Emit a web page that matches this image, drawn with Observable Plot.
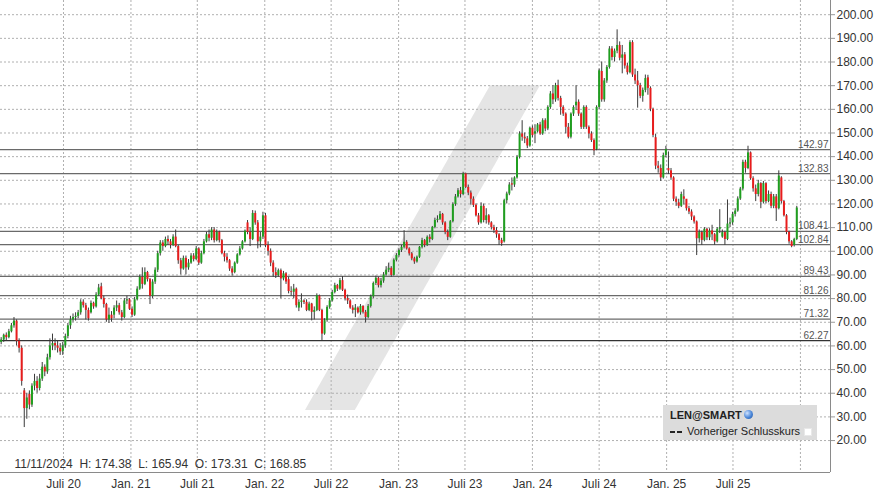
<!DOCTYPE html>
<html><head><meta charset="utf-8">
<script src="https://cdn.jsdelivr.net/npm/d3@7"></script>
<script src="https://cdn.jsdelivr.net/npm/@observablehq/plot@0.6"></script>
<style>
body{margin:0;background:#fff;font-family:"Liberation Sans",Arial,sans-serif;}
#wrap{position:relative;width:880px;height:496px;overflow:hidden;}
#legend{position:absolute;left:663px;top:405px;width:154px;height:35px;background:#dcdcdc;font-size:11px;color:#222;}
</style></head><body><div id="wrap"></div>
<script>
// Weekly candles, first week starting 2020-01-13
const opens = [61.5,62.5,64.5,63.5,66,68.5,70.5,62,59,41,
33.5,39.5,35,43,45,42,46,51,49,55,
60,61,60,59,57.5,60,64,68.5,71,72,
72.5,74,78.5,77,75,74,78,76.5,81.5,85,
80,77.5,71,73,73,76,77,74,72,79,
79.5,75.5,73,79.5,84,89,86,91,88,81,
87,92,99,103.5,102,105,104,102.5,106,102,
96,92.5,97,93,95,98,96.5,101,95,99,
104,107,105.5,109,104.5,108,104.5,99,97.5,96,
92.5,91,95,98.5,101,104,112,108,105,116,
112,104,106,115,102.5,100,95,91,89.7,91.8,
88.3,90.5,88,83,82.7,84,76,78.4,79,78.4,
75,77.7,74.2,75,81,75,65,70.7,76.3,79,
82.6,85.5,84,87.6,83.5,80,79,76,75,76,
74,76.7,74.2,72,76.7,80.8,86.4,88.6,85.5,87.4,
90,92,92.8,89.8,96.2,98.2,100.3,101.7,103.8,101,
98.9,96.8,95.5,97.5,101.7,104.5,102.5,105.9,105,110.1,
113,113.5,115.6,112,108,105.9,112.5,119.8,123,125.6,
124,132.7,127,124.6,122,119.4,115,112,119,113,
115,112,110,108.8,107,104.6,104,121.4,124.2,128.5,
128,131,139.7,149.6,148.2,147.5,144.5,152,149.5,150.5,
153.4,149.6,155.2,151.7,160.8,166.5,164,170,164.6,160.8,
158,152.4,148.2,158,161.5,163,158,152.4,160.8,152.4,
149.6,146.8,143,160.8,176,164,172,177.7,185.5,181.9,
184.6,187,181.6,183,178.3,175.5,188.2,174.5,172,170,
165.5,168,173.31,168.85,160,148,136,135,131,140.5,
135,134,131,122,120.5,119,123,122,118,116.6,
114.5,112.4,105.3,107.9,104.6,109.3,105.7,108.6,107,104,
109.3,106,107.9,105,111.5,112,115.6,117,122.1,126.3,
137.6,135,141.6,130.7,126.4,124,128.6,120.7,128.6,121,
124,119,123,118,131,121,115,108,104,102.5,105];
const highs = [63.5,65,65.5,67,69.5,72,71,63,60,42,
40,41,44,48,47,48,53,52,56.5,63,
65,63,62,61,61.5,65,69.5,72.5,73.5,74,
75,79.5,79.5,78,76,79,78.5,82.5,86,86.5,
81,78,76,74.5,77,79,78,75,80,81,
80,76.5,80.5,85,90,93,93,91.5,88.5,88,
93,100,104.5,104.5,106,106.5,105,107,109,102.5,
97,98,98,96.5,99,99,102,101.5,100,105,
108,109,110,110,109,108.5,105,100,99,96.5,
93.5,95.5,99,102,104.5,109,113,110,117.2,117,
113,108,116.5,116,104,101,96,93,92.5,92.5,
91.5,91,89,85,86,84.5,79.5,82,79.5,79.5,
78.5,78,76.5,82,81.5,75.5,71.5,77,80,83.5,
86.5,86,88.5,89.3,84,81.5,79.5,77,77.5,76.5,
77.5,77,75,77.5,81.5,87,89.5,89,88.5,91,
93.5,95,93.5,96.8,99,101,102.5,108.7,104.5,101.5,
99.5,97.5,98,102,105.5,105,106.5,107,110.5,114,
115,116.8,116,112.5,109,113,120.5,124,126.5,127,
133.4,133,128,125.5,123,120,116,120.5,120,118,
115.5,112.5,111,110,107.5,105.5,122,125,129,131,
131.5,140.5,150.5,155.2,150,148.5,152.5,153,153.5,154,
154.5,156,156,161.5,167.5,170,171,172.3,165.5,161.5,
158.5,154,158.5,161.5,170,164,158.5,161.5,161.5,153,
150.5,147.5,161.5,177,180,173,178.5,186.5,186.5,185.5,
193.6,188.5,187,184,179.5,189,189,177,176,171,
169,174.5,174.38,169.5,160.5,149.5,138,136.5,141.5,144.4,
142,135,131.5,123,122,125,126,121.7,119,117.5,
115,112.8,109,108.5,110,109.8,109.5,111,107.5,110,
117.6,109,108.5,121.7,114,116.5,118,123,127,138.5,
138.5,144.4,142,131.5,128,130,129,129.5,129,125.5,
125,124,124,134,131.5,121.5,115.5,108.5,104.5,105.5,119];
const lows = [60.5,61.5,62,63,65.5,67.5,60,57,43,25.5,
29,33,34,41,40,41,45,47,48,54,
58,58,57,56,56,59,63,67,70,70.5,
71.5,73,76,71,70.5,73.5,75.5,76,81,79.5,
76,70,69.5,70,71.5,74.5,73,70.5,71.5,77.5,
75,72,72.5,79,83.5,84,85.5,87,77.5,80,
86,91,98,100,101.5,102.5,101,102,101.5,94.5,
90,92,90,92,94.5,95.5,96,94,94.5,98.5,
103.5,104,104.5,103.5,104,103.5,98.5,95.5,95,91.5,
89.5,90.5,94.5,98,100.5,103.5,107,102,104.5,111,
101,101.5,105,101.5,98,93.5,89,88.5,89,80,
87.5,86,82,81,80,76,74.5,76,77.5,74.5,
74.5,70.6,71,74.5,74.5,62.3,64.5,70,75.5,78.5,
82,83,83.5,83,79,77.5,75.5,73.5,72,73.5,
73,73.5,69.7,71.5,76,80,85.5,84.5,84.5,86.5,
89.5,91,89,89.5,95.5,97.5,99.5,101,100.5,98,
96,94.5,95,97,101,101.5,102,103.5,104.5,109.5,
112,113,111,107,104.5,105.5,112,119,122.5,122.5,
123.5,126.5,123.5,119.5,118.5,114.5,111,111.5,112,111.5,
111,109,107.5,105.5,102.5,102.1,103.5,120,123.5,125.5,
127,130.5,139,146.5,145.5,143.4,144,148,145.5,150,
149,149,150.5,151,160,162,163,163.5,157.5,157,
149.6,147.5,147.5,157,159.5,157,151.5,151.5,151.5,147.5,
146,140.4,142.5,160,163,163,171,177,180.5,180,
183.5,180.5,175,177,174.5,175,173.5,170.5,160.5,164.5,
163,167,165.94,159,148,134.5,133,129.5,130.5,139.5,
132.5,130,121,119,118,118.5,119.5,117,115.5,113,
111.5,98.2,103.5,102.5,104,104.5,104.5,104.5,102.5,103.5,
107.5,105.5,102.5,104.5,110,111,114.5,116.5,121.5,125.5,
133,134.5,130,125,121,123,118,120,120,120.5,
118,118,112.6,117.5,120,114.5,107,103,101.5,101.8,104.5];
const closes = [62.5,64.5,63.5,66,68.5,70.5,62,59,45,33.5,
38,35,43,45,42,46,51,49,55,60,
61,60,59,57.5,60,64,68.5,71,72,72.5,
74,78.5,77,75,71.5,78,76.5,81.5,84.5,80,
77.5,71,73,71.5,76,77,74,72,79,79.5,
75.5,73,79.5,84,89,86,91,88,81,87,
92,99,103.5,102,105,104,102.5,106,102,96,
92.5,97,93,95,98,96.5,101,95,99,104,
107,105.5,109,104.5,108,104.5,99,97.5,96,92.5,
90.8,95,98.5,101,104,108.5,108,105,116,112,
104,106,115,102.5,100,95,91,89.7,91.8,88.3,
90.5,87,83,82.7,84,77,78.4,79,78.4,75,
77.7,74.2,75,81.2,75,65,70.7,76.3,79,82.6,
85.5,84,87.6,83.5,80,79,76,75,76,74,
76.7,74.2,72,76.7,80.8,86.4,88.6,85.5,87.4,90,
92,92.8,89.8,96.2,98.2,100.3,101.7,103.8,101,98.9,
96.8,95.5,97.5,101.7,104.5,102.5,105.9,105,110.1,113,
113.5,115.6,112,108,105.9,112.5,119.8,123,125.6,124,
132.7,127,124.6,122,119.4,115,112,119,113,115,
112,110,108.8,107,104.6,103.2,121.4,124.2,128,128,
131,139.7,149.6,148.2,147.5,144.5,152,148.9,150.5,153.4,
149.6,155.2,151.7,160.8,166.5,164,170,164.6,160.8,158,
152.4,148.2,158,160.8,163,158,152.4,160.8,152.4,149.6,
146.8,142.5,160.8,176.3,164,172,177.7,185.5,181.9,184.6,
187,181.6,183,178.3,175.5,188.2,174.5,172,170,165.5,
168,173,168.85,160,149,136,135,131,140.5,143,
134,131,122,120.7,119,124,122,118,116.6,114.5,
112.4,105.3,107.9,104.6,109.3,105.7,108.6,107,104,109.3,
110,107.9,105,111.5,112,115.6,117,122.1,126.3,137.6,
135,141.6,130.7,126.4,124,128.6,120.7,128.6,121,124,
119,123,118,131.8,121,115,108,104,102,105,118.3];

const levels = [142.97, 132.83, 108.41, 102.84, 89.43, 81.26, 71.32, 62.27];
const yTicks = [20,30,40,50,60,70,80,90,100,110,120,130,140,150,160,170,180,190,200];
const xTickLabels = ["Juli 20","Jan. 21","Juli 21","Jan. 22","Juli 22","Jan. 23","Juli 23","Jan. 24","Juli 24","Jan. 25","Juli 25"];
const xTickDates = ["2020-07-01","2021-01-01","2021-07-01","2022-01-01","2022-07-01","2023-01-01","2023-07-01","2024-01-01","2024-07-01","2025-01-01","2025-07-01"];
const xGridDates = [...xTickDates, "2026-01-01"];
const captionText = "11/11/2024\u00a0\u00a0H: 174.38\u00a0\u00a0L: 165.94\u00a0\u00a0O: 173.31\u00a0\u00a0C: 168.85";
// watermark band corners in data space (date, price)
const bandBottom = {v: 32.7, a: "2022-04-22", b: "2022-09-05"};
const bandTop = {v: 170, a: "2023-09-09", b: "2024-01-23"};

const start = new Date(Date.UTC(2020, 0, 13));
const data = closes.map((c, i) => ({
  date: d3.utcDay.offset(start, 7 * i), o: opens[i], h: highs[i], l: lows[i], c
}));
const xStart = new Date("2020-01-11T05:00:00Z");
const xEnd = new Date("2026-03-24T00:00:00Z");
const yMin = 6.5, yMax = 206;
const band = [bandBottom, bandTop].map(d => ({v: d.v, a: new Date(d.a), b: new Date(d.b)}));
const labelMap = new Map(xTickDates.map((d, i) => [+new Date(d), xTickLabels[i]]));
const GREEN = "#1f9f1f", RED = "#e81c1c";

const chart = Plot.plot({
  width: 880, height: 496,
  marginLeft: 0, marginRight: 50, marginTop: 0, marginBottom: 24,
  style: {fontFamily: "'Liberation Sans', Arial, sans-serif", background: "#fff", color: "#333", overflow: "visible"},
  x: {type: "utc", domain: [xStart, xEnd], axis: null},
  y: {domain: [yMin, yMax], axis: null},
  marks: [
    Plot.areaX(band, {y: "v", x1: "a", x2: "b", fill: "#e5e5e5", curve: "linear"}),
    Plot.ruleY(yTicks, {stroke: "#b0b0b0", strokeDasharray: "2,2"}),
    Plot.ruleX(xGridDates.map(d => new Date(d)), {stroke: "#b0b0b0", strokeDasharray: "2,2"}),
    Plot.ruleY(levels, {stroke: d => d === 62.27 ? "#333" : "#6a6a6a", strokeWidth: 1.3}),
    Plot.text(levels, {x: () => xEnd, y: d => d, text: d => d.toFixed(2), textAnchor: "end", lineAnchor: "bottom", dx: -2, dy: -2, fontSize: 10, fill: "#555"}),
    Plot.ruleX(data, {x: "date", y1: "l", y2: "h", stroke: "#3a3a3a", strokeWidth: 1}),
    Plot.ruleX(data, {x: "date", y1: "o", y2: "c", stroke: d => d.c >= d.o ? GREEN : RED, strokeWidth: 2}),
    Plot.axisY(yTicks, {anchor: "right", tickFormat: d => d.toFixed(2), tickSize: 4, tickPadding: 2, fontSize: 12, stroke: "#999"}),
    Plot.axisX(xTickDates.map(d => new Date(d)), {anchor: "bottom", tickFormat: d => labelMap.get(+d), tickSize: 0, tickPadding: 7, fontSize: 12}),
    Plot.ruleX([xEnd], {stroke: "#8a8a8a"}),
    Plot.ruleY([yMin], {stroke: "#8a8a8a"}),
    Plot.text([captionText], {frameAnchor: "bottom-left", dx: 14, dy: -5, fontSize: 12, fill: "#333", textAnchor: "start"})
  ]
});
const wrap = document.getElementById("wrap");
wrap.appendChild(chart);

const legend = document.createElement("div");
legend.id = "legend";
legend.innerHTML = `
  <div style="position:absolute;left:7px;top:4px;font-weight:bold;">LEN@SMART</div>
  <div style="position:absolute;left:81px;top:5px;width:9px;height:9px;border-radius:50%;background:radial-gradient(circle at 35% 35%, #cfe3ff 0%, #4a86d8 55%, #1d4f9a 100%);"></div>
  <div style="position:absolute;left:7px;top:21px;width:5px;height:1.5px;background:#222;top:26px;"></div>
  <div style="position:absolute;left:14px;width:5px;height:1.5px;background:#222;top:26px;"></div>
  <div style="position:absolute;left:24px;top:20px;">Vorheriger Schlusskurs</div>
  <div style="position:absolute;left:141px;top:23px;width:6px;height:6px;background:#fff;border:1px solid #e8e8e8;"></div>`;
wrap.appendChild(legend);
</script>
</body></html>
